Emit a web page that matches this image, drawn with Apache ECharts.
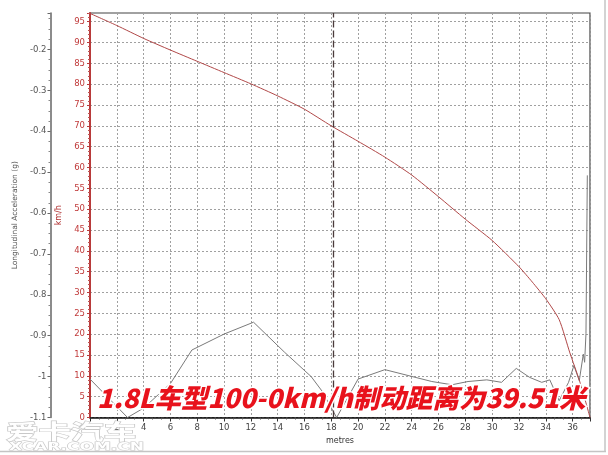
<!DOCTYPE html>
<html>
<head>
<meta charset="utf-8">
<script src="https://cdn.jsdelivr.net/npm/echarts@6/dist/echarts.min.js"></script>
<style>
html,body{margin:0;padding:0;background:#fff;}
#c{width:608px;height:455px;}
</style>
</head>
<body>
<div id="c"></div>
<script>
// Speed (km/h) vs distance (metres)
const speedDist = [0, 2, 4, 6, 8, 10, 12, 14, 16, 18, 20, 22, 24, 26, 28, 30, 32, 33, 34, 35, 35.8, 36.5, 37, 37.3];
const speedVals = [97, 94.1, 91, 88.2, 85.5, 82.8, 80.1, 77.2, 74, 70, 66.3, 62.5, 58.2, 53, 47.6, 42.5, 36.2, 32.5, 28.5, 23.5, 15.5, 9, 3.5, 0];

// Longitudinal acceleration (g) vs distance (metres)
const accDist = [0, 2.8, 4, 6, 7.6, 10, 12.2, 14.5, 16.5, 17.3, 18.4, 20, 22, 25.5, 27, 28.2, 29.6, 30.7, 31.8, 32.8, 33.7, 34.3, 35, 35.7, 36.1, 36.5, 36.8, 36.9, 37, 37.1];
const accVals = [-1.006, -1.1, -1.077, -1.017, -0.935, -0.896, -0.867, -0.94, -1.0, -1.035, -1.1, -1.006, -0.983, -1.012, -1.02, -1.012, -1.008, -1.014, -0.98, -1.002, -1.014, -1.008, -1.059, -1.014, -0.973, -1.01, -0.945, -0.965, -0.895, -0.508];

const cursorDist = 18.18;
const titleText = '1.8L车型100-0km/h制动距离为39.51米';
const xAxisName = 'metres';
const speedAxisName = 'km/h';
const accAxisName = 'Longitudinal Acceleration (g)';

const chart = echarts.init(document.getElementById('c'));
const option = {
  animation: false,
  backgroundColor: '#fff',
  grid: { left: 90, right: 18, top: 13, bottom: 37.5, show: true, borderColor: '#444', borderWidth: 1.2 },
  xAxis: {
    type: 'value', min: 0, max: 37.3, interval: 2,
    name: xAxisName, nameLocation: 'middle', nameGap: 19,
    nameTextStyle: { fontSize: 8, color: '#333', fontFamily: 'DejaVu Sans' },
    axisLine: { lineStyle: { color: '#111', width: 1.5 } },
    axisTick: { length: 4, lineStyle: { color: '#333' } },
    minorTick: { show: true, splitNumber: 3, length: 2, lineStyle: { color: '#555' } },
    axisLabel: { showMinLabel: false, showMaxLabel: false, fontSize: 8.5, color: '#444', margin: 6, fontFamily: 'DejaVu Sans' },
    splitLine: { show: true, lineStyle: { color: '#a0a0a0', type: [2, 2] } }
  },
  yAxis: [
    {
      type: 'value', position: 'left', offset: 0, min: 0, max: 97.1, interval: 5,
      name: speedAxisName, nameLocation: 'middle', nameGap: 19, nameRotate: 90,
      nameTextStyle: { fontSize: 8, color: '#b03030', fontFamily: 'DejaVu Sans' },
      axisLine: { show: true, lineStyle: { color: '#b83a3a', width: 2 } },
      axisTick: { show: true, length: 3, lineStyle: { color: '#b83a3a' } },
      minorTick: { show: true, splitNumber: 5, length: 2, lineStyle: { color: '#c05050' } },
      axisLabel: { showMaxLabel: false, fontSize: 8.5, color: '#c03a3a', margin: 5, fontFamily: 'DejaVu Sans' },
      splitLine: { show: true, lineStyle: { color: '#a0a0a0', type: [2, 2] } }
    },
    {
      type: 'value', position: 'left', offset: 39.5, min: -1.1, max: -0.111, interval: 0.1,
      name: accAxisName, nameLocation: 'middle', nameGap: 24, nameRotate: 90,
      nameTextStyle: { fontSize: 7.5, color: '#555', fontFamily: 'DejaVu Sans' },
      axisLine: { show: true, lineStyle: { color: '#666', width: 1.5 } },
      axisTick: { show: true, length: 3, lineStyle: { color: '#666' } },
      minorTick: { show: true, splitNumber: 4, length: 2, lineStyle: { color: '#888' } },
      axisLabel: { showMaxLabel: false, fontSize: 8.5, color: '#555', margin: 4, fontFamily: 'DejaVu Sans' },
      splitLine: { show: false }
    }
  ],
  series: [
    {
      type: 'line', yAxisIndex: 1, symbol: 'none', z: 3,
      lineStyle: { color: '#7a7a7a', width: 1 },
      data: accDist.map((d, i) => [d, accVals[i]])
    },
    {
      type: 'line', yAxisIndex: 0, symbol: 'none', z: 4,
      smooth: 0.2,
      lineStyle: { color: '#b04848', width: 1 },
      data: speedDist.map((d, i) => [d, speedVals[i]]),
      markLine: {
        silent: true, symbol: 'none', label: { show: false },
        lineStyle: { color: '#4a3a3a', type: [7, 3], width: 1.3 },
        data: [{ xAxis: cursorDist }]
      }
    }
  ],
  graphic: [
    { type: 'line', shape: { x1: 605, y1: 0, x2: 605, y2: 452 }, style: { stroke: '#c4c4c4', lineWidth: 1.5 }, z: 1 },
    { type: 'line', shape: { x1: 0, y1: 451.5, x2: 606, y2: 451.5 }, style: { stroke: '#c4c4c4', lineWidth: 1.5 }, z: 1 },
    {
      type: 'text', x: 6, y: 421, scaleX: 1.55, z: 2,
      style: { text: '爱卡汽车', fontSize: 21, fontWeight: 'bold', fontFamily: 'Noto Sans CJK SC', fill: '#fff', stroke: '#c8c8c8', lineWidth: 1.2 }
    },
    {
      type: 'text', x: 9, y: 442, scaleX: 1.7, z: 2,
      style: { text: 'XCAR.COM.CN', fontSize: 10, fontWeight: 'bold', fontFamily: 'DejaVu Sans', fill: '#fff', stroke: '#c8c8c8', lineWidth: 1 }
    },
    {
      type: 'text', x: 97, y: 398, z: 100,
      style: {
        text: titleText, fontSize: 26.5, fontWeight: 900, fontStyle: 'italic',
        fontFamily: 'Noto Sans CJK SC', fill: '#e8121c', stroke: '#fff', lineWidth: 3,
        verticalAlign: 'middle', align: 'left'
      }
    }
  ]
};
chart.setOption(option);
</script>
</body>
</html>
